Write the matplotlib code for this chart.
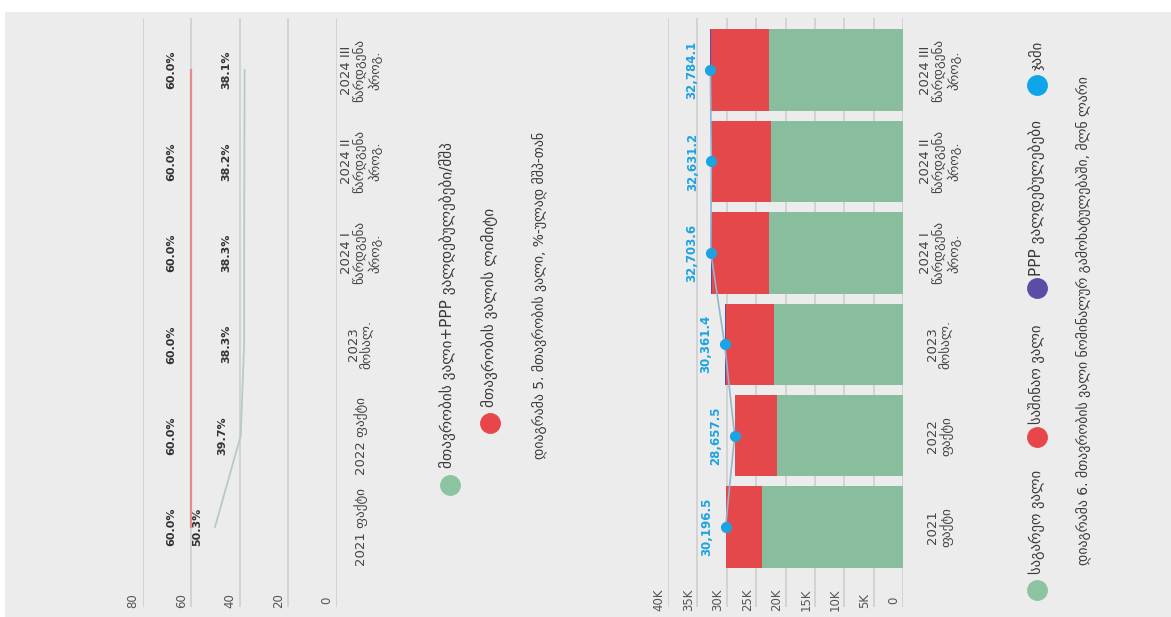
import matplotlib
matplotlib.use("Agg")
import matplotlib.pyplot as plt
from matplotlib.patches import Rectangle

plt.rcParams['font.family'] = ['DejaVu Sans']

# categories (shared by both charts)
categories = ["2021 ფაქტი", "2022 ფაქტი", "2023\nმოსალ.",
              "2024 I\nწარდგენა\nპროგ.", "2024 II\nწარდგენა\nპროგ.", "2024 III\nწარდგენა\nპროგ."]
categories_bar = ["2021\nფაქტი", "2022\nფაქტი", "2023\nმოსალ.",
                  "2024 I\nწარდგენა\nპროგ.", "2024 II\nწარდგენა\nპროგ.", "2024 III\nწარდგენა\nპროგ."]

# chart 5: debt to GDP, %
debt_limit = [60.0, 60.0, 60.0, 60.0, 60.0, 60.0]
debt_gdp = [50.3, 39.7, 38.3, 38.3, 38.2, 38.1]
ticks5 = [0, 20, 40, 60, 80]

# chart 6: nominal debt, mln GEL
external = [24000, 21400, 22000, 22800, 22500, 22800]
domestic = [6080, 7150, 8210, 9720, 9950, 9800]
ppp = [120, 110, 150, 180, 180, 180]
total = [30196.5, 28657.5, 30361.4, 32703.6, 32631.2, 32784.1]
ticks6 = [0, 5000, 10000, 15000, 20000, 25000, 30000, 35000, 40000]
tick6_labels = ["0", "5K", "10K", "15K", "20K", "25K", "30K", "35K", "40K"]

W, H = 1171, 617
GREEN = '#88bd9d'
RED = '#e5484b'
BLUE = '#1ca3e3'
PURPLE = '#5a4da6'
GRID = '#d3d3d3'
TXT = '#3a3a3a'

fig = plt.figure(figsize=(W / 100, H / 100), dpi=100)
fig.patch.set_facecolor('#ececec')

# overlay in pixel coordinates for legend / captions / background strips
ov = fig.add_axes([0, 0, 1, 1])
ov.set_xlim(0, W)
ov.set_ylim(H, 0)
ov.axis('off')
ov.add_patch(Rectangle((0, 0), W, 12, color='white', lw=0))
ov.add_patch(Rectangle((0, 0), 5, H, color='white', lw=0))


def box(x0, x1, y0, y1):
    return [x0 / W, 1 - y1 / H, (x1 - x0) / W, (y1 - y0) / H]


def setup(ax, ticks, xmax):
    ax.set_facecolor('none')
    ax.set_xlim(xmax, 0)
    ax.set_ylim(-0.875, 5.57)
    ax.set_xticks(ticks)
    ax.set_yticks([])
    ax.tick_params(length=0, labelbottom=False)
    for s in ax.spines.values():
        s.set_visible(False)
    ax.grid(axis='x', color=GRID, lw=1.4)
    ax.set_axisbelow(True)


# ---------- chart 5 ----------
ax5 = fig.add_axes(box(143, 337, 18, 607))
setup(ax5, ticks5, 80)
ypos = list(range(len(categories)))
ax5.plot(debt_limit, ypos, color='#e88a8a', lw=1.6)
ax5.plot(debt_gdp, ypos, color='#b5cdbd', lw=1.3)
for i in ypos:
    ax5.annotate('%.1f%%' % debt_limit[i], (debt_limit[i], i), xytext=(-20, 0),
                 textcoords='offset pixels', rotation=90, ha='center', va='center',
                 fontsize=8, fontweight='bold', color='#333333')
    ax5.annotate('%.1f%%' % debt_gdp[i], (debt_gdp[i], i), xytext=(-18, 0),
                 textcoords='offset pixels', rotation=90, ha='center', va='center',
                 fontsize=8, fontweight='bold', color='#333333')
    ax5.annotate(categories[i], (0, i), xytext=(24, 0), textcoords='offset pixels',
                 rotation=90, ha='center', va='center', fontsize=9.5, color='#444444',
                 linespacing=1.05, annotation_clip=False)
for t in ticks5:
    ax5.annotate(str(t), (t, -0.8), xytext=(-10, 0), textcoords='offset pixels',
                 rotation=90, ha='center', va='center', fontsize=8.5, color='#555555')

ov.plot(450, 485, 'o', ms=14, color='#8cc4a2')
ov.text(447, 468, "მთავრობის ვალი+PPP ვალდებულებები/მშპ", rotation=90,
        ha='center', va='bottom', fontsize=11, color=TXT)
ov.plot(490, 423, 'o', ms=14, color='#e8474a')
ov.text(489, 407, "მთავრობის ვალის ლიმიტი", rotation=90,
        ha='center', va='bottom', fontsize=11, color=TXT)
ov.text(539, 295, "დიაგრამა 5. მთავრობის ვალი, %-ულად მშპ-თან", rotation=90,
        ha='center', va='center', fontsize=10, color=TXT)

# ---------- chart 6 ----------
ax6 = fig.add_axes(box(668, 903, 18, 607))
setup(ax6, ticks6, 40000)
bh = 0.89
left2 = [e + d for e, d in zip(external, domestic)]
ax6.barh(ypos, external, height=bh, color=GREEN, lw=0)
ax6.barh(ypos, domestic, height=bh, left=external, color=RED, lw=0)
ax6.barh(ypos, ppp, height=bh, left=left2, color=PURPLE, lw=0)
ax6.plot(total, ypos, color='#8fb6cf', lw=1.2, marker='o', ms=7,
         markerfacecolor=BLUE, markeredgecolor=BLUE)
for i in ypos:
    ax6.annotate(format(total[i], ',.1f'), (total[i], i), xytext=(-19, 0),
                 textcoords='offset pixels', rotation=90, ha='center', va='center',
                 fontsize=8.5, fontweight='bold', color=BLUE)
    ax6.annotate(categories_bar[i], (0, i), xytext=(37, 0), textcoords='offset pixels',
                 rotation=90, ha='center', va='center', fontsize=9.5, color='#444444',
                 linespacing=1.05, annotation_clip=False)
for t, lab in zip(ticks6, tick6_labels):
    ax6.annotate(lab, (t, -0.8), xytext=(-9, 0), textcoords='offset pixels',
                 rotation=90, ha='center', va='center', fontsize=8.5, color='#555555')

ov.plot(1037, 590, 'o', ms=14, color='#8cc4a2')
ov.text(1037, 574, "საგარეო ვალი", rotation=90, ha='center', va='bottom',
        fontsize=10.5, color=TXT)
ov.plot(1037, 437, 'o', ms=14, color='#e8474a')
ov.text(1037, 424, "საშინაო ვალი", rotation=90, ha='center', va='bottom',
        fontsize=10.5, color=TXT)
ov.plot(1037, 288, 'o', ms=14, color=PURPLE)
ov.text(1037, 276, "PPP ვალდებულებები", rotation=90, ha='center', va='bottom',
        fontsize=11, color=TXT)
ov.plot(1037, 85, 'o', ms=14, color='#0ea5e9')
ov.text(1037, 70, "ჯამი", rotation=90, ha='center', va='bottom',
        fontsize=10.5, color=TXT)
ov.text(1083, 321, "დიაგრამა 6. მთავრობის ვალი ნომინალურ გამოხატულებაში, მლნ ლარი",
        rotation=90, ha='center', va='center', fontsize=10, color=TXT)

fig.savefig('out.png', dpi=100, facecolor=fig.get_facecolor())
